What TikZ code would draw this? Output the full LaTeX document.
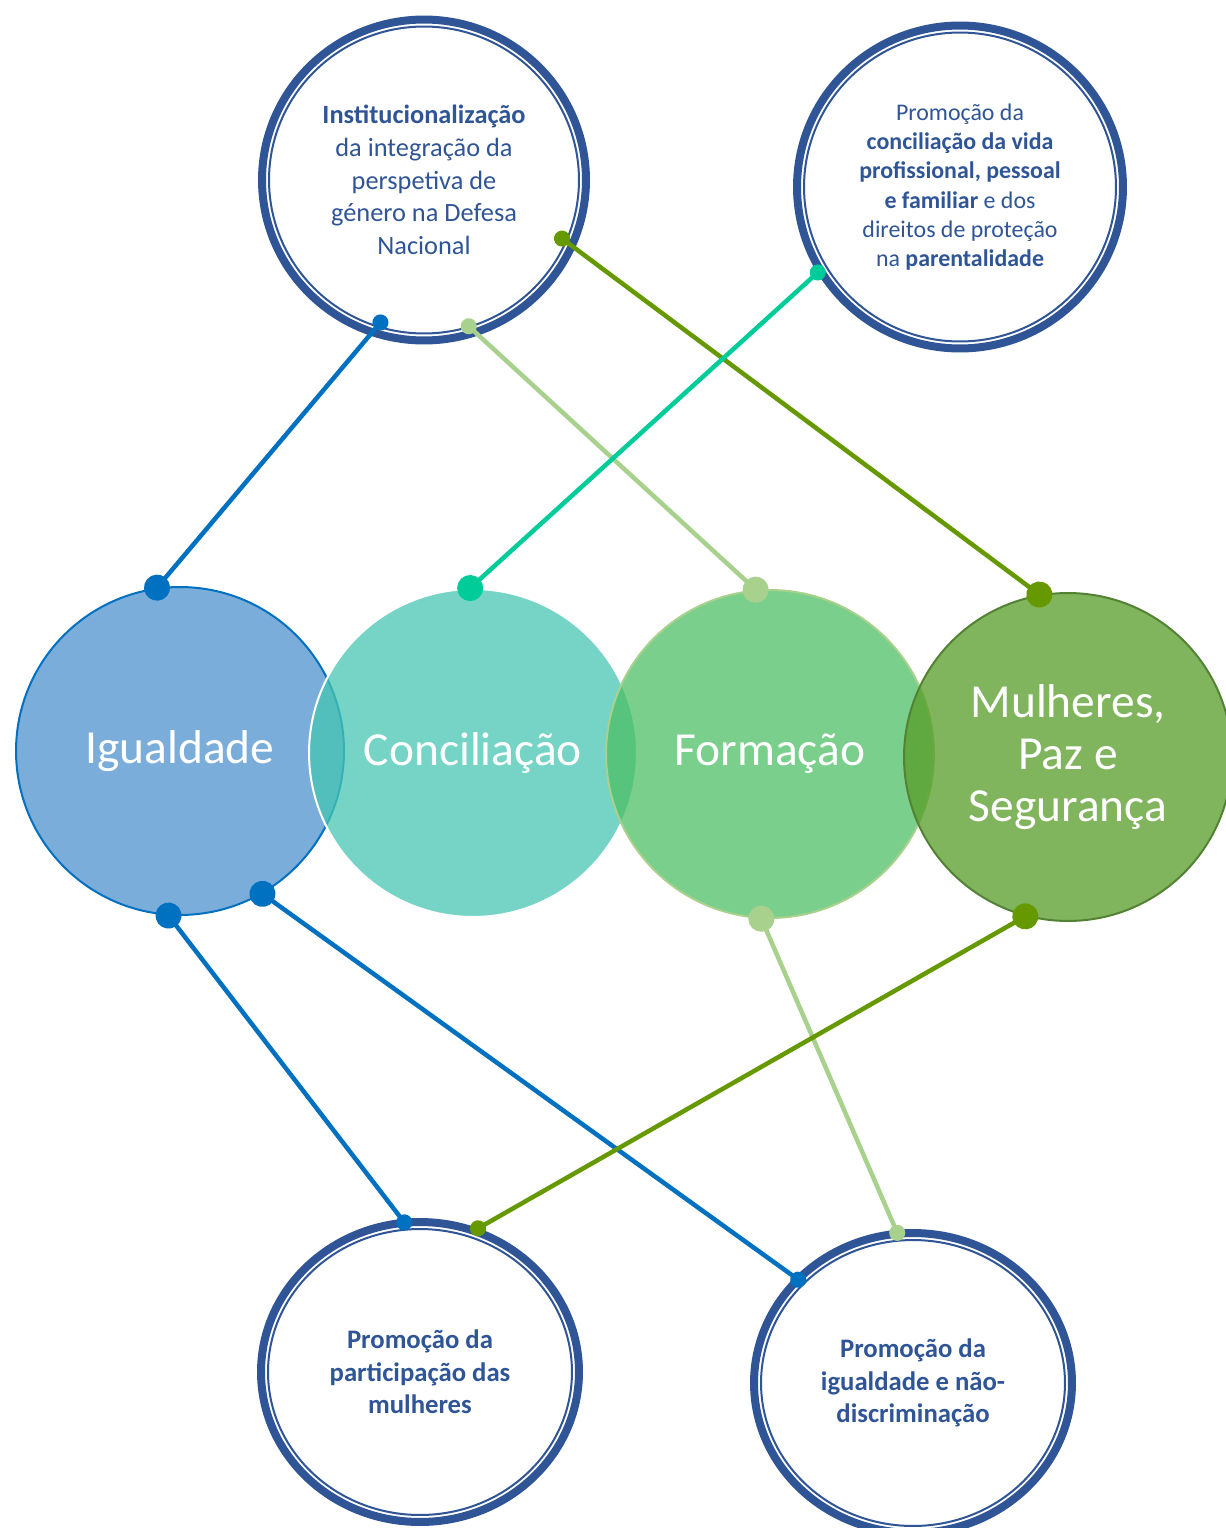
\documentclass[tikz,border=0pt]{standalone}
\usepackage{fontspec}
\setmainfont{Carlito}
\definecolor{ringblue}{RGB}{47,85,151}
\definecolor{linkblue}{RGB}{0,112,192}
\definecolor{linkteal}{RGB}{0,204,153}
\definecolor{linklight}{RGB}{169,209,142}
\definecolor{linkolive}{RGB}{102,153,0}
\definecolor{igblue}{RGB}{79,145,207}
\definecolor{coteal}{RGB}{71,198,178}
\definecolor{fogreen}{RGB}{78,191,101}
\definecolor{mpgreen}{RGB}{86,156,39}
\definecolor{mpedge}{RGB}{84,130,53}
\usetikzlibrary{arrows.meta,shapes.geometric,calc}

\begin{document}
\begin{tikzpicture}[x=0.02cm,y=-0.02cm,
  hub/.style={circle,inner sep=0pt,minimum size=6.56cm,line width=0.4mm,
              fill opacity=0.75,text opacity=1,text=white,align=center,
              font=\fontsize{27}{29.6}\selectfont},
  ring/.style={ellipse,draw=ringblue,line width=1.6mm,inner sep=0pt,
              fill=white,text=ringblue,align=center,
              path picture={\draw[ringblue,line width=0.4mm]
                let \p1=($(path picture bounding box.north east)-(path picture bounding box.center)$)
                in (path picture bounding box.center) ellipse [x radius=\x1-1.4mm,y radius=\y1-1.4mm];}},
  link/.style={line width=0.9mm,{Circle[length=3.2mm]}-{Circle[length=5.2mm]},
              shorten <=-1.6mm,shorten >=-2.6mm}]
  \useasboundingbox (0,0) rectangle (1226,1528);

  % the four areas
  \node[hub,fill=igblue,draw=linkblue] (IG) at (180,751) {Igualdade};
  \node[hub,fill=coteal,draw=white] (CO) at (473,753) {Conciliação};
  \node[hub,fill=fogreen,draw=linklight] (FO) at (770,754) {Formação};
  \node[hub,fill=mpgreen,draw=mpedge] (MPS) at (1068,757) {Mulheres,\\Paz e\\Segurança};

  % the measures
  \node[ring,minimum width=6.48cm,minimum height=6.42cm,
        font=\fontsize{15}{18.6}\selectfont] (INS) at (424,180)
    {\textbf{Institucionalização}\\da integração da\\perspetiva de\\género na Defesa\\Nacional};
  \node[ring,minimum width=6.52cm,minimum height=6.46cm,
        font=\fontsize{13.6}{16.7}\selectfont] (CON) at (960,187)
    {Promoção da\\\textbf{conciliação da vida}\\\textbf{profissional, pessoal}\\\textbf{e familiar} e dos\\direitos de proteção\\na \textbf{parentalidade}};
  \node[ring,minimum width=6.36cm,minimum height=6cm,
        font=\bfseries\fontsize{15.2}{18.5}\selectfont] (PAR) at (420,1372)
    {Promoção da\\participação das\\mulheres};
  \node[ring,minimum width=6.36cm,minimum height=6cm,
        font=\bfseries\fontsize{15.2}{18.5}\selectfont] (NDI) at (913,1383)
    {Promoção da\\igualdade e não-\\discriminação};

  % links
  \draw[link,linkblue]  ([shift={(253:2.98cm)}]INS.center) -- (IG.98);
  \draw[link,linklight] ([shift={(287:3.06cm)}]INS.center) -- (FO.95);
  \draw[link,linkolive] ([shift={(337:3cm)}]INS.center) -- (MPS.100);
  \draw[link,linkteal]  ([shift={(211:3.32cm)}]CON.center) -- (CO.91);
  \draw[link,linkblue]  ([shift={(96:3.01cm)}]PAR.center) -- (IG.266);
  \draw[link,linkblue]  ([shift={(138:3.09cm)}]NDI.center) -- (IG.300);
  \draw[link,linklight] ([shift={(96:3.02cm)}]NDI.center) -- (FO.267);
  \draw[link,linkolive] ([shift={(68:3.1cm)}]PAR.center) -- (MPS.255);
\end{tikzpicture}
\end{document}
